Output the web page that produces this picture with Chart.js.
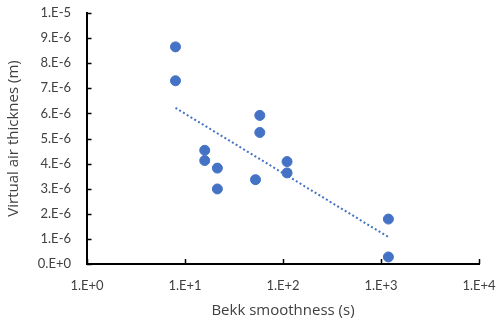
<!DOCTYPE html>
<html>
<head>
<meta charset="utf-8">
<script src="https://cdn.jsdelivr.net/npm/chart.js@4.4.1/dist/chart.umd.min.js"></script>
<style>
  html, body { margin: 0; padding: 0; background: #fff; }
  #wrap { width: 497px; height: 320px; position: relative; }
</style>
</head>
<body>
<div id="wrap"><canvas id="c" width="497" height="320"></canvas></div>
<script>
// Data
const bekkSmoothness = [8.0, 8.0, 15.9, 15.9, 21.4, 21.4, 58, 58, 52.4, 110, 110, 1190, 1190];
const virtualAirThickness = [8.65e-6, 7.30e-6, 4.53e-6, 4.12e-6, 3.82e-6, 2.99e-6, 5.92e-6, 5.24e-6, 3.36e-6, 4.08e-6, 3.63e-6, 1.79e-6, 0.28e-6];
const xTickValues = [1, 10, 100, 1000, 10000];
const xTickLabels = ['1.E+0', '1.E+1', '1.E+2', '1.E+3', '1.E+4'];
const yTickValues = [0, 1e-6, 2e-6, 3e-6, 4e-6, 5e-6, 6e-6, 7e-6, 8e-6, 9e-6, 1e-5];
const yTickLabels = ['0.E+0', '1.E-6', '2.E-6', '3.E-6', '4.E-6', '5.E-6', '6.E-6', '7.E-6', '8.E-6', '9.E-6', '1.E-5'];

// Logarithmic trendline (least squares of y on ln x), as Excel does
const lnx = bekkSmoothness.map(v => Math.log(v));
const n = lnx.length;
const mx = lnx.reduce((a, b) => a + b, 0) / n;
const my = virtualAirThickness.reduce((a, b) => a + b, 0) / n;
let sxy = 0, sxx = 0;
for (let i = 0; i < n; i++) { sxy += (lnx[i] - mx) * (virtualAirThickness[i] - my); sxx += (lnx[i] - mx) ** 2; }
const slope = sxy / sxx, intercept = my - slope * mx;
const xMin = Math.min(...bekkSmoothness), xMax = Math.max(...bekkSmoothness);
const trend = [xMin, xMax].map(x => ({ x: x, y: intercept + slope * Math.log(x) }));

const points = bekkSmoothness.map((x, i) => ({ x: x, y: virtualAirThickness[i] }));

const BLUE = '#4472C4';
const TXT = '#404040';

const insideTicks = {
  id: 'insideTicks',
  afterDatasetsDraw(chart) {
    const ctx = chart.ctx;
    const xs = chart.scales.x, ys = chart.scales.y;
    const area = chart.chartArea;
    ctx.save();
    ctx.strokeStyle = '#000';
    ctx.lineWidth = 1.5;
    ctx.beginPath();
    xTickValues.forEach(v => {
      const px = Math.round(xs.getPixelForValue(v)) + 0.5;
      ctx.moveTo(px, area.bottom);
      ctx.lineTo(px, area.bottom - 5);
    });
    yTickValues.forEach(v => {
      const py = Math.round(ys.getPixelForValue(v)) + 0.5;
      ctx.moveTo(area.left, py);
      ctx.lineTo(area.left + 4.5, py);
    });
    ctx.stroke();
    ctx.restore();
  }
};

new Chart(document.getElementById('c'), {
  type: 'scatter',
  data: {
    datasets: [
      { label: 'data', data: points, backgroundColor: BLUE, borderColor: BLUE, pointRadius: 5, pointHoverRadius: 5, order: 0 },
      { type: 'line', label: 'trend', data: trend, showLine: true, borderColor: BLUE, borderWidth: 2, borderDash: [2, 2.4], pointRadius: 0, fill: false, order: 1 }
    ]
  },
  options: {
    responsive: false,
    animation: false,
    devicePixelRatio: 1,
    layout: { padding: { left: 0, right: 18, top: 13, bottom: 0 } },
    plugins: { legend: { display: false }, tooltip: { enabled: false } },
    scales: {
      x: {
        type: 'logarithmic', min: 1, max: 10000,
        afterBuildTicks: s => { s.ticks = xTickValues.map(v => ({ value: v })); },
        afterFit: s => { s.height = 56; s.paddingLeft = 0; s.paddingRight = 0; },
        grid: { display: false },
        border: { display: true, color: '#000', width: 2 },
        ticks: { color: TXT, font: { family: 'Lato', size: 13 }, padding: 6, maxRotation: 0, autoSkip: false, callback: (v, i) => xTickLabels[i] },
        title: { display: true, text: 'Bekk smoothness (s)', color: TXT, font: { family: 'Open Sans', size: 15 }, padding: { top: 0, bottom: 0 } }
      },
      y: {
        type: 'linear', min: 0, max: 1e-5,
        afterBuildTicks: s => { s.ticks = yTickValues.map(v => ({ value: v })); },
        afterFit: s => { s.width = 87; s.paddingTop = 0; s.paddingBottom = 0; },
        grid: { display: false },
        border: { display: true, color: '#000', width: 2 },
        ticks: { color: TXT, font: { family: 'Lato', size: 13 }, padding: 8, autoSkip: false, callback: (v, i) => yTickLabels[i] },
        title: { display: true, text: 'Virtual air thicknes (m)', color: TXT, font: { family: 'Open Sans', size: 15 }, padding: { top: 4.5, bottom: 0 } }
      }
    }
  },
  plugins: [insideTicks]
});
</script>
</body>
</html>
